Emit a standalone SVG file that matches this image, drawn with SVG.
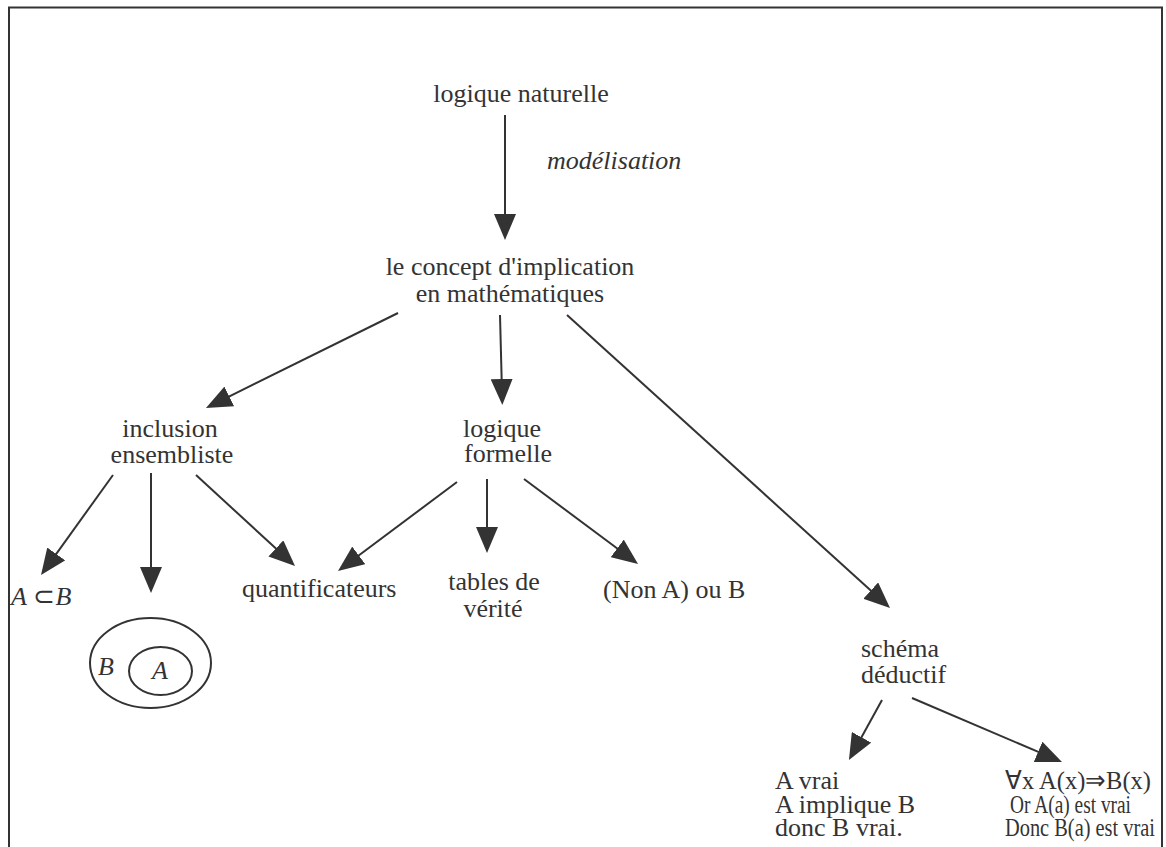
<svg xmlns="http://www.w3.org/2000/svg" width="1166" height="847" viewBox="0 0 1166 847">
<style>
text{font-family:"Liberation Serif","Times New Roman",serif;font-size:26px;fill:#333;}
.it{font-style:italic;}
.mid{text-anchor:middle;}
.conn line{stroke:#333;stroke-width:2;marker-end:url(#ah);}
.shape{fill:none;stroke:#333;stroke-width:2;}
</style>
<defs>
<marker id="ah" markerUnits="userSpaceOnUse" markerWidth="26" markerHeight="22" refX="6" refY="11" orient="auto">
<path d="M0,0 L26,11 L0,22 z" fill="#333"/>
</marker>
</defs>
<rect width="1166" height="847" fill="#fff"/>
<path d="M9,860 V7.5 H1162 V860" fill="none" stroke="#333" stroke-width="2"/>
<g id="connectors" class="conn">
<line x1="505" y1="115" x2="505" y2="220"/>
<line x1="398" y1="313" x2="223.9" y2="399.1"/>
<line x1="500" y1="315" x2="501.8" y2="385"/>
<line x1="567" y1="315" x2="875.2" y2="594.6"/>
<line x1="113" y1="475" x2="52.7" y2="558.8"/>
<line x1="151" y1="473" x2="151" y2="573"/>
<line x1="196" y1="475" x2="280.3" y2="552.5"/>
<line x1="457" y1="482" x2="354" y2="559"/>
<line x1="487" y1="479" x2="487" y2="533"/>
<line x1="524" y1="479" x2="622" y2="552"/>
<line x1="882" y1="700" x2="858.6" y2="742.5"/>
<line x1="912" y1="698" x2="1043.6" y2="754.2"/>
</g>
<g id="edge-label"><text class="it" x="547" y="169">modélisation</text></g>
<g id="logique-naturelle"><text class="mid" x="521" y="102">logique naturelle</text></g>
<g id="concept"><text class="mid" x="510" y="275">le concept d'implication</text><text class="mid" x="510" y="302">en mathématiques</text></g>
<g id="inclusion"><text class="mid" x="170" y="437">inclusion</text><text class="mid" x="172" y="463">ensembliste</text></g>
<g id="logique-formelle"><text x="463" y="437">logique</text><text x="464" y="462">formelle</text></g>
<g id="a-subset-b"><text x="11" y="605"><tspan class="it">A</tspan> ⊂<tspan class="it">B</tspan></text></g>
<g id="venn">
<ellipse class="shape" cx="150.5" cy="663" rx="60.5" ry="45"/>
<ellipse class="shape" cx="160.5" cy="671" rx="31.5" ry="24"/>
<text class="it" x="98" y="675">B</text>
<text class="it" x="152" y="679">A</text>
</g>
<g id="quantificateurs"><text x="242" y="597">quantificateurs</text></g>
<g id="tables"><text class="mid" x="494" y="590">tables de</text><text class="mid" x="493" y="617">vérité</text></g>
<g id="non-a-ou-b"><text x="603" y="598">(Non A) ou B</text></g>
<g id="schema"><text x="861" y="657">schéma</text><text x="861" y="683">déductif</text></g>
<g id="modus-ponens"><text x="775" y="789">A vrai</text><text x="775" y="813">A implique B</text><text x="775" y="836">donc B vrai.</text></g>
<g id="quantified"><text x="1005" y="789" textLength="146" lengthAdjust="spacingAndGlyphs">∀x A(x)⇒B(x)</text><text x="1010" y="813" textLength="121" lengthAdjust="spacingAndGlyphs">Or A(a) est vrai</text><text x="1005" y="836" textLength="150" lengthAdjust="spacingAndGlyphs">Donc B(a) est vrai</text></g>
</svg>
